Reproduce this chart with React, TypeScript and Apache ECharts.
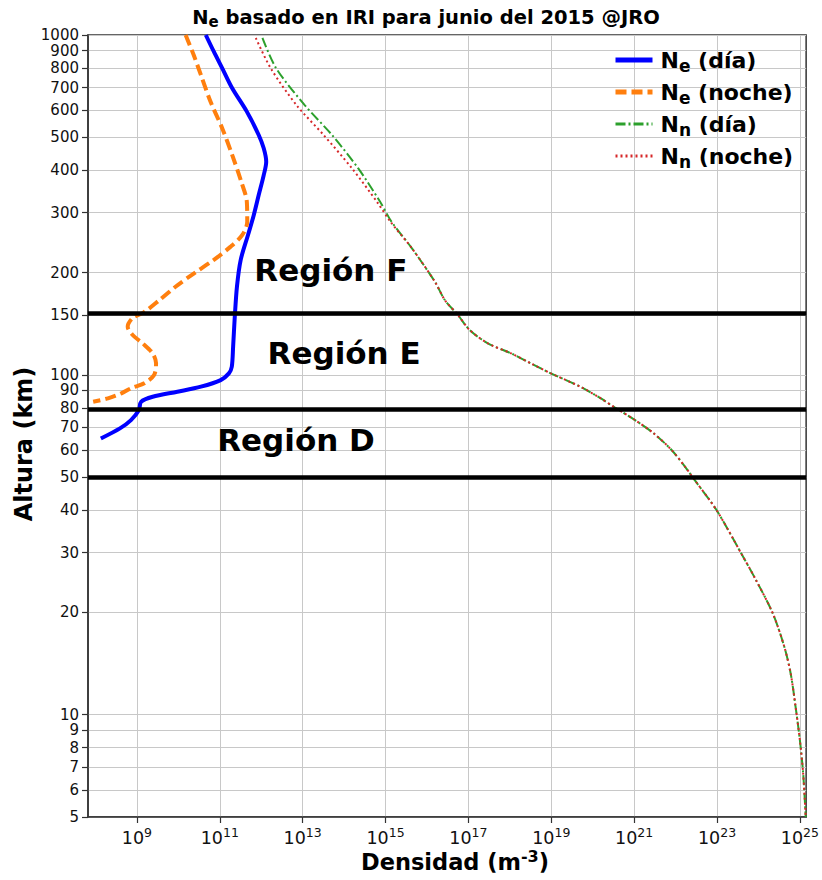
import React, { useEffect, useRef } from "react";
import * as echarts from "echarts";

// Electron density Ne (m^-3) by altitude (km), day profile
const neDayAlt = [1000, 893, 798, 697, 595, 508, 464, 424, 387, 338, 295, 258, 218, 182, 148, 121, 105.6, 101, 96.5, 92.3, 89.2, 86.2, 83.3, 78.8, 73.6, 69.6, 65];
const neDayDens = [4.6e10, 7.2e10, 1.15e11, 2.0e11, 4.5e11, 8.7e11, 1.15e12, 1.32e12, 1.15e12, 8.7e11, 6.6e11, 4.8e11, 3.2e11, 2.6e11, 2.3e11, 2.1e11, 1.95e11, 1.66e11, 1.05e11, 3.5e10, 9.5e9, 2.4e9, 1.26e9, 1.12e9, 7.2e8, 3.9e8, 1.35e8];

// Electron density, night profile
const neNightAlt = [1000, 873, 763, 636, 531, 443, 370, 323, 282, 258, 238, 218, 199, 182, 166, 153, 147, 138.6, 131, 123.8, 115.7, 108.1, 99.9, 94.4, 91.3, 88.2, 85.3, 83.3];
const neNightDens = [1.5e10, 2.35e10, 3.5e10, 6.0e10, 1.15e11, 2.0e11, 3.3e11, 4.5e11, 4.6e11, 3.5e11, 1.8e11, 7.2e10, 2.4e10, 8.7e9, 3.5e9, 1.5e9, 7.9e8, 6.0e8, 7.9e8, 1.38e9, 2.4e9, 2.9e9, 2.6e9, 1.5e9, 7.2e8, 4.2e8, 2.0e8, 8.8e7];

// Neutral density Nn, day profile
const nnDayAlt = [980, 798, 622, 508, 405, 323, 282, 236, 188, 166, 150, 135.5, 123.8, 115.7, 108.1, 101, 92.3, 85.5, 80, 73.6, 67.3, 60.1, 53.7, 49, 40, 29.8, 24.9, 19.9, 15.85, 13.2, 10.5, 8.4, 6.7, 5];
const nnDayDens = [1.07e12, 2.3e12, 1.12e13, 5.1e13, 2.2e14, 7.4e14, 1.4e15, 4.3e15, 1.55e16, 2.7e16, 5.6e16, 1.07e17, 2.95e17, 1.07e18, 3.2e18, 9.8e18, 5.0e19, 1.5e20, 3.5e20, 1.05e21, 2.95e21, 8.0e21, 1.68e22, 2.9e22, 9.7e22, 3.85e23, 8.7e23, 2.2e24, 4.2e24, 6.0e24, 7.9e24, 1.0e25, 1.2e25, 1.38e25];

// Neutral density, night profile
const nnNightAlt = [980, 798, 622, 508, 405, 323, 282, 236, 188, 166, 150, 135.5, 123.8, 115.7, 108.1, 101, 92.3, 85.5, 80, 73.6, 67.3, 60.1, 53.7, 49, 40, 29.8, 24.9, 19.9, 15.85, 13.2, 10.5, 8.4, 6.7, 5];
const nnNightDens = [7.4e11, 1.7e12, 7.1e12, 3.2e13, 1.55e14, 6.2e14, 1.32e15, 4.3e15, 1.55e16, 2.7e16, 5.6e16, 1.07e17, 2.95e17, 1.07e18, 3.2e18, 9.8e18, 5.0e19, 1.5e20, 3.5e20, 1.05e21, 2.95e21, 8.0e21, 1.68e22, 2.9e22, 9.7e22, 3.85e23, 8.7e23, 2.2e24, 4.2e24, 6.0e24, 7.9e24, 1.0e25, 1.2e25, 1.38e25];

// Axis ticks
const altTicks = [5, 6, 7, 8, 9, 10, 20, 30, 40, 50, 60, 70, 80, 90, 100, 150, 200, 300, 400, 500, 600, 700, 800, 900, 1000];
const densTickExp = [9, 11, 13, 15, 17, 19, 21, 23, 25];
const densMinExp = 7.82;
const densMaxExp = 25.15;

// Ionospheric region boundaries (km) and region labels
const regionBounds = [150, 80, 50];
const regionNames = ["Región F", "Región E", "Región D"];
const regionDens = [4.8e13, 1.0e14, 6.9e12];
const regionAlt = [203, 116, 64.3];

const FONT = "'DejaVu Sans', sans-serif";

const toPts = (dens: number[], alt: number[]) =>
  dens.map((d, i) => [Math.log10(d), Math.log10(alt[i])]);

const legendText: Record<string, string> = {
  "Ne (día)": "N{s|e} (día)",
  "Ne (noche)": "N{s|e} (noche)",
  "Nn (día)": "N{s|n} (día)",
  "Nn (noche)": "N{s|n} (noche)",
};

export default function App() {
  const ref = useRef<HTMLDivElement>(null);

  useEffect(() => {
    if (!ref.current) return;
    const chart = echarts.init(ref.current, undefined, { renderer: "svg" });

    const lineBase = {
      type: "line" as const,
      showSymbol: false,
      symbol: "none",
      smooth: 0.3,
      silent: true,
    };

    chart.setOption({
      animation: false,
      backgroundColor: "#fff",
      grid: { left: 88, right: 12, top: 35, bottom: 63, show: true, borderColor: "#333", borderWidth: 1.5, backgroundColor: "transparent" },
      xAxis: {
        type: "value",
        min: densMinExp,
        max: densMaxExp,
        axisLine: { show: true, lineStyle: { color: "#333", width: 1.5 } },
        axisTick: { show: true, customValues: densTickExp, length: 6, lineStyle: { color: "#333", width: 1.2 } },
        axisLabel: {
          customValues: densTickExp,
          showMinLabel: true,
          showMaxLabel: true,
          hideOverlap: false,
          margin: 9,
          color: "#111",
          fontFamily: FONT,
          fontSize: 17.5,
          formatter: (v: number) => `10{sup|${Math.round(v)}}`,
          rich: { sup: { fontSize: 12.5, fontFamily: FONT, color: "#111", padding: [0, 0, 11, 0] } },
        },
        splitLine: { show: true, lineStyle: { color: "#c8c8c8", width: 1 } },
      },
      yAxis: {
        type: "value",
        min: Math.log10(5),
        max: 3,
        axisLine: { show: true, lineStyle: { color: "#333", width: 1.5 } },
        axisTick: { show: true, customValues: altTicks.map((t) => Math.log10(t)), length: 6, lineStyle: { color: "#333", width: 1.2 } },
        axisLabel: {
          customValues: altTicks.map((t) => Math.log10(t)),
          showMinLabel: true,
          showMaxLabel: true,
          hideOverlap: false,
          margin: 9,
          color: "#111",
          fontFamily: FONT,
          fontSize: 15,
          lineHeight: 12,
          formatter: (v: number) => String(Math.round(Math.pow(10, v))),
        },
        splitLine: { show: true, lineStyle: { color: "#c8c8c8", width: 1 } },
      },
      legend: {
        orient: "vertical",
        left: 608,
        top: 44,
        itemWidth: 37,
        itemHeight: 12,
        itemGap: 7,
        data: [
          { name: "Ne (día)", lineStyle: { width: 5 } },
          { name: "Ne (noche)", lineStyle: { width: 5 } },
          { name: "Nn (día)", lineStyle: { width: 3 } },
          { name: "Nn (noche)", lineStyle: { width: 3 } },
        ],
        formatter: (name: string) => legendText[name] || name,
        itemStyle: { opacity: 0 },
        textStyle: {
          fontFamily: FONT,
          fontSize: 22,
          fontWeight: "bold",
          color: "#000",
          padding: [0, 0, 0, 3],
          rich: { s: { fontFamily: FONT, fontSize: 17, fontWeight: "bold", color: "#000", padding: [11, 0, 0, 0] } },
        },
      },
      series: [
        {
          ...lineBase,
          name: "Ne (día)",
          data: toPts(neDayDens, neDayAlt),
          lineStyle: { color: "#0000ff", width: 4 },
          itemStyle: { color: "#0000ff" },
          z: 3,
        },
        {
          ...lineBase,
          name: "Ne (noche)",
          data: toPts(neNightDens, neNightAlt),
          lineStyle: { color: "#ff7f0e", width: 4, type: [11, 5] },
          itemStyle: { color: "#ff7f0e" },
          z: 3,
        },
        {
          ...lineBase,
          name: "Nn (día)",
          data: toPts(nnDayDens, nnDayAlt),
          lineStyle: { color: "#2ca02c", width: 2, type: [10, 3, 2, 3] },
          itemStyle: { color: "#2ca02c" },
          z: 3,
        },
        {
          ...lineBase,
          name: "Nn (noche)",
          data: toPts(nnNightDens, nnNightAlt),
          lineStyle: { color: "#d62728", width: 2, type: [2, 3] },
          itemStyle: { color: "#d62728" },
          z: 3,
        },
        {
          type: "scatter",
          name: "regiones",
          silent: true,
          symbolSize: 0,
          z: 5,
          itemStyle: { color: "#000", opacity: 1 },
          data: regionNames.map((n, i) => ({ name: n, value: [Math.log10(regionDens[i]), Math.log10(regionAlt[i])] })),
          label: {
            show: true,
            position: "inside",
            formatter: (p: any) => p.name,
            fontFamily: FONT,
            fontSize: 31,
            fontWeight: "bold",
            color: "#000",
            opacity: 1,
            textBorderWidth: 0,
          },
          markLine: {
            silent: true,
            symbol: "none",
            label: { show: false },
            lineStyle: { color: "#000", width: 4.5, type: "solid", opacity: 1 },
            data: regionBounds.map((b) => ({ yAxis: Math.log10(b) })),
          },
        },
      ],
      graphic: [
        {
          type: "text",
          x: 426,
          y: 17,
          style: {
            text: "N{s|e} basado en IRI para junio del 2015 @JRO",
            fontFamily: FONT,
            fontSize: 19.5,
            fontWeight: "bold",
            fill: "#000",
            align: "center",
            verticalAlign: "middle",
            rich: { s: { fontFamily: FONT, fontSize: 15, fontWeight: "bold", fill: "#000", padding: [9, 0, 0, 0] } },
          },
        },
        {
          type: "text",
          x: 24,
          y: 444,
          rotation: Math.PI / 2,
          style: {
            text: "Altura (km)",
            fontFamily: FONT,
            fontSize: 24,
            fontWeight: "bold",
            fill: "#000",
            align: "center",
            verticalAlign: "middle",
          },
        },
        {
          type: "text",
          x: 455,
          y: 862,
          style: {
            text: "Densidad (m{sup|-3})",
            fontFamily: FONT,
            fontSize: 22.5,
            fontWeight: "bold",
            fill: "#000",
            align: "center",
            verticalAlign: "middle",
            rich: { sup: { fontFamily: FONT, fontSize: 16, fontWeight: "bold", fill: "#000", padding: [0, 0, 12, 0] } },
          },
        },
      ],
    });

    return () => chart.dispose();
  }, []);

  return <div ref={ref} style={{ width: 822, height: 880, position: "absolute", left: 0, top: 0 }} />;
}
